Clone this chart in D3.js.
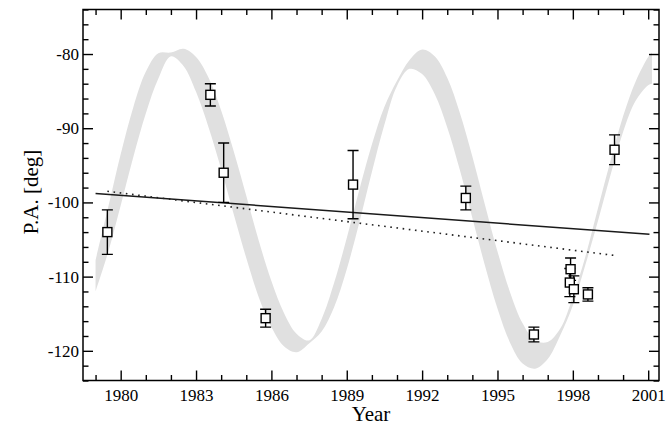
<!DOCTYPE html>
<html>
<head>
<meta charset="utf-8">
<script src="https://cdnjs.cloudflare.com/ajax/libs/d3/7.8.5/d3.min.js"></script>
<style>
body { margin: 0; background: #fff; }
text { font-family: "Liberation Serif", "Times New Roman", serif; fill: #000; }
</style>
</head>
<body>
<svg></svg>
<script>
// observed position angles
var obsYear = [1979.47, 1983.57, 1984.10, 1985.77, 1989.25, 1993.74, 1996.45, 1997.91, 1997.88, 1998.04, 1998.60, 1999.66];
var obsPA   = [-104.0, -85.5, -96.0, -115.6, -97.6, -99.4, -117.8, -109.0, -110.8, -111.7, -112.4, -92.9];
var obsErr  = [3.0, 1.5, 4.0, 1.2, 4.6, 1.6, 1.0, 1.5, 1.9, 1.8, 0.9, 2.0];

// linear fits
var fitYears = [1979.0, 2001.05];
var fitPA = [-98.8, -104.3];
var trendYears = [1979.47, 1999.66];
var trendPA = [-98.5, -107.15];

// grey model band (upper and lower edge)
var bandYears = [1979.0, 1979.5, 1980.0, 1980.5, 1981.0, 1981.5, 1982.0, 1982.5, 1983.0, 1983.5,
                 1984.0, 1984.5, 1985.0, 1985.5, 1986.0, 1986.5, 1987.0, 1987.5, 1988.0, 1988.5,
                 1989.0, 1989.5, 1990.0, 1990.5, 1991.0, 1991.5, 1992.0, 1992.5, 1993.0, 1993.5,
                 1994.0, 1994.5, 1995.0, 1995.5, 1996.0, 1996.5, 1997.0, 1997.5, 1998.0, 1998.5,
                 1999.0, 1999.5, 2000.0, 2000.5, 2001.0, 2001.15];
var bandTop = [-107.8, -100.7, -93.5, -87.2, -82.4, -79.9, -79.8, -79.3, -80.4, -83.2,
               -87.6, -93.1, -99.1, -105.2, -110.6, -114.9, -117.7, -118.6, -115.7, -110.8,
               -104.8, -98.3, -92.2, -87.1, -83.6, -80.8, -79.4, -80.3, -83.2, -87.9,
               -93.8, -100.3, -106.6, -112.1, -116.3, -118.6, -118.8, -117.0, -112.7, -107.3,
               -100.8, -94.4, -88.4, -83.7, -80.4, -79.8];
var bandBottom = [-112.0, -106.7, -100.4, -93.9, -88.0, -83.3, -80.3, -81.6, -85.1, -89.9,
                  -95.5, -101.6, -107.5, -112.8, -116.8, -119.4, -120.2, -119.0, -117.4, -114.1,
                  -109.0, -102.7, -95.9, -89.5, -84.3, -82.0, -82.7, -85.4, -89.9, -95.6,
                  -102.1, -108.5, -114.3, -118.9, -121.7, -122.4, -121.1, -117.9, -113.9, -108.4,
                  -102.5, -96.3, -90.5, -86.3, -84.2, -84.0];

// ticks
var xMajor = [1980, 1983, 1986, 1989, 1992, 1995, 1998, 2001];
var xMinor = [1979, 1981, 1982, 1984, 1985, 1987, 1988, 1990, 1991, 1993, 1994, 1996, 1997, 1999, 2000];
var yMajor = [-120, -110, -100, -90, -80];
var yMinor = [-124, -122, -118, -116, -114, -112, -108, -106, -104, -102, -98, -96, -94, -92, -88, -86, -84, -82, -78, -76, -74];

var width = 668, height = 425;
var plotL = 83, plotR = 659, plotT = 9.5, plotB = 380.5;

var svg = d3.select('svg').attr('width', width).attr('height', height);

var x = d3.scaleLinear().domain([1978.5, 2001.43]).range([plotL, plotR]);
var y = d3.scaleLinear().domain([-124, -74]).range([plotB, plotT]);

// band
var band = bandYears.map((d, i) => ({year: d, hi: bandTop[i], lo: bandBottom[i]}));
svg.append('path')
   .datum(band)
   .attr('fill', '#e0e0e0')
   .attr('d', d3.area().x(d => x(d.year)).y0(d => y(d.lo)).y1(d => y(d.hi))
                .curve(d3.curveCatmullRom.alpha(0.5)));

// fits
var line = d3.line().x(d => x(d[0])).y(d => y(d[1]));
svg.append('path')
   .datum(fitYears.map((d, i) => [d, fitPA[i]]))
   .attr('fill', 'none').attr('stroke', '#1a1a1a').attr('stroke-width', 1.5)
   .attr('d', line);
svg.append('path')
   .datum(trendYears.map((d, i) => [d, trendPA[i]]))
   .attr('fill', 'none').attr('stroke', '#222').attr('stroke-width', 1.6)
   .attr('stroke-dasharray', '1.6 4.6')
   .attr('d', line);

// error bars and squares
var pts = obsYear.map((d, i) => ({year: d, pa: obsPA[i], err: obsErr[i]}));
var g = svg.append('g').attr('stroke', '#000').attr('stroke-width', 1.4);
g.selectAll('.bar').data(pts).enter().append('path')
   .attr('fill', 'none')
   .attr('d', d => {
       var cx = x(d.year), y0 = y(d.pa + d.err), y1 = y(d.pa - d.err);
       return `M${cx - 5.5},${y0}H${cx + 5.5}M${cx},${y0}V${y1}M${cx - 5.5},${y1}H${cx + 5.5}`;
   });
g.selectAll('.sq').data(pts).enter().append('rect')
   .attr('x', d => x(d.year) - 4.5)
   .attr('y', d => y(d.pa) - 4.5)
   .attr('width', 9).attr('height', 9)
   .attr('fill', '#fff');

// axes with inward ticks
function addAxis(axis, tx, ty) {
    var a = svg.append('g').attr('transform', `translate(${tx},${ty})`).call(axis);
    a.select('.domain').remove();
    a.selectAll('line').attr('stroke', '#000').attr('stroke-width', 1.4);
    a.selectAll('text').style('font-size', '17px').style('font-family', '"Liberation Serif", serif');
    return a;
}
var plain = d => String(d);
addAxis(d3.axisBottom(x).tickValues(xMajor).tickSize(-10).tickPadding(8).tickFormat(plain), 0, plotB);
addAxis(d3.axisBottom(x).tickValues(xMinor).tickSize(-5.5).tickFormat(''), 0, plotB);
addAxis(d3.axisTop(x).tickValues(xMajor).tickSize(-10).tickFormat(''), 0, plotT);
addAxis(d3.axisTop(x).tickValues(xMinor).tickSize(-5.5).tickFormat(''), 0, plotT);
addAxis(d3.axisLeft(y).tickValues(yMajor).tickSize(-10).tickPadding(4).tickFormat(plain), plotL, 0);
addAxis(d3.axisLeft(y).tickValues(yMinor).tickSize(-5.5).tickFormat(''), plotL, 0);
addAxis(d3.axisRight(y).tickValues(yMajor).tickSize(-10).tickFormat(''), plotR, 0);
addAxis(d3.axisRight(y).tickValues(yMinor).tickSize(-5.5).tickFormat(''), plotR, 0);

svg.append('rect')
   .attr('x', plotL).attr('y', plotT)
   .attr('width', plotR - plotL).attr('height', plotB - plotT)
   .attr('fill', 'none').attr('stroke', '#000').attr('stroke-width', 1.5);

// axis titles
svg.append('text')
   .attr('x', (plotL + plotR) / 2).attr('y', 421)
   .attr('text-anchor', 'middle')
   .style('font-size', '21px')
   .text('Year');
svg.append('text')
   .attr('transform', `translate(38,${(plotT + plotB) / 2 - 3}) rotate(-90)`)
   .attr('text-anchor', 'middle')
   .style('font-size', '21px')
   .text('P.A. [deg]');
</script>
</body>
</html>
